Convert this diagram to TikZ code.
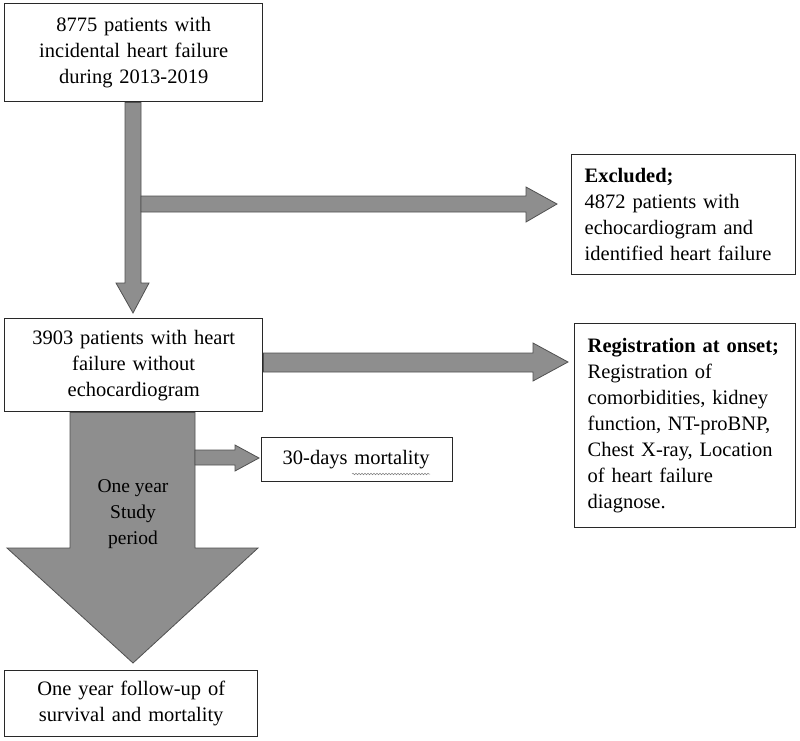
\documentclass[tikz,border=0pt]{standalone}
\usepackage{fontspec}
\setmainfont{Liberation Serif}
\usetikzlibrary{decorations.pathmorphing}
\definecolor{arrowfill}{RGB}{142,142,142}
\definecolor{arrowline}{RGB}{80,80,80}
\definecolor{boxline}{RGB}{40,40,40}
\tikzset{
  box/.style={draw=boxline, line width=1.4pt, fill=white, anchor=north west, inner ysep=0pt,
    font=\fontsize{20.5}{26}\selectfont},
  cbox/.style={box, align=center, inner xsep=4pt},
  lbox/.style={box, align=left},
  blockarrow/.style={fill=arrowfill, draw=arrowline, line width=0.8pt, line join=miter},
}
\begin{document}
\begin{tikzpicture}[x=1pt,y=-1pt]
\useasboundingbox (0,0) rectangle (800,740);

% boxes
\node[cbox, minimum width=258pt, minimum height=98pt, text width=250pt] (b1) at (4,3)
  {8775 patients with\\incidental heart failure\\during 2013-2019};
\node[lbox, minimum width=224pt, minimum height=120pt, inner xsep=13pt, text width=198pt] (ex) at (571,154)
  {\textbf{Excluded;}\\4872 patients with\\echocardiogram and\\identified heart failure};
\node[cbox, minimum width=258pt, minimum height=93pt, text width=250pt] (b2) at (4,318)
  {3903 patients with heart\\failure without\\echocardiogram};
\node[lbox, minimum width=221pt, minimum height=204pt, inner xsep=13pt, text width=195pt] (reg) at (574,323)
  {\textbf{Registration at onset;}\\Registration of\\comorbidities, kidney\\function, NT-proBNP,\\Chest X-ray, Location\\of heart failure\\diagnose.};
\node[lbox, minimum width=191pt, minimum height=44pt, inner xsep=21pt, text width=149pt] (m30) at (261,437)
  {30-days mortality};
\node[cbox, minimum width=253pt, minimum height=66pt, text width=245pt] (b3) at (4,670)
  {One year follow-up of\\survival and mortality};

% arrow from b1 down to b2
\draw[blockarrow] (125,0 |- b1.south) -- (125,283) -- (116,283) -- (133,313) -- (149,283) -- (141,283) -- (141,0 |- b1.south) -- cycle;
% arrow to excluded
\coordinate (t1) at (557,204);
\draw[blockarrow] (141,196) -- (526,196) -- (526,187) -- (t1) -- (526,222) -- (526,212) -- (141,212) -- cycle;
% arrow from b2 to registration
\coordinate (t2) at (568,362);
\draw[blockarrow] (b2.east |- 0,353) -- (533,353) -- (533,343) -- (t2) -- (533,381) -- (533,372) -- (b2.east |- 0,372) -- cycle;
% big study period arrow
\draw[blockarrow] (70,0 |- b2.south) -- (70,548) -- (7,548) -- (133,663) -- (258,548) -- (195,548) -- (195,0 |- b2.south) -- cycle;
\node[font=\fontsize{19.5}{26}\selectfont, align=center, inner sep=0pt] (sp) at (133,514) {One year\\Study\\period};
% small arrow to 30-days
\coordinate (t3) at (259,458);
\draw[blockarrow] (195,450) -- (235,450) -- (235,445) -- (t3) -- (235,471) -- (235,465) -- (195,465) -- cycle;

% spell-check wavy underline
\draw[gray, line width=0.5pt, decorate, decoration={snake, amplitude=0.8pt, segment length=3pt}] (352,474) -- (430,474);
\end{tikzpicture}
\end{document}
